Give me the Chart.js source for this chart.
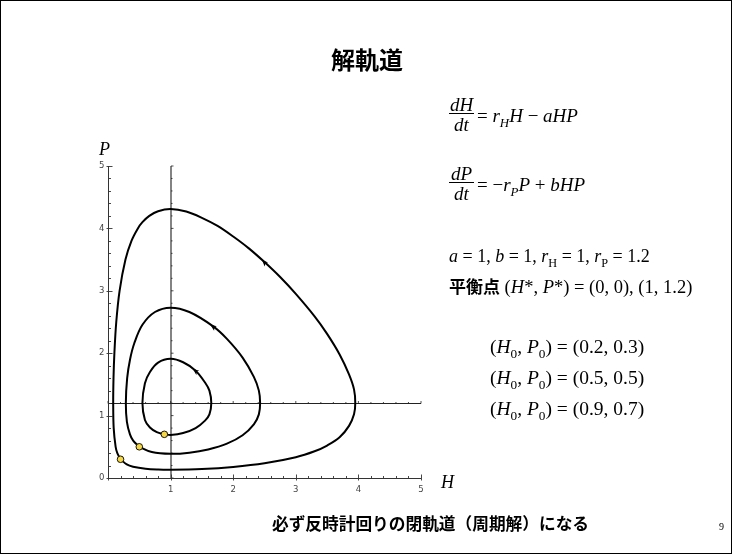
<!DOCTYPE html>
<html><head><meta charset="utf-8">
<script src="https://cdn.jsdelivr.net/npm/chart.js@4.4.0/dist/chart.umd.min.js"></script>
<style>html,body{margin:0;padding:0;background:#fff;}canvas{display:block;}</style>
</head><body>
<canvas id="c" width="733" height="555"></canvas>
<script>
// ---- data (H, P), listed counter-clockwise from each start point ----
const outerOrbit = [[0.2,0.3],[0.3,0.217],[0.4,0.18],[0.6,0.148],[0.8,0.136],[1.0,0.133],[1.5,0.145],[2.0,0.178],[2.5,0.236],[3.0,0.333],[3.3,0.428],[3.5,0.52],[3.7,0.652],[3.85,0.835],[3.93,1.02],[3.95,1.2],[3.93,1.42],[3.85,1.66],[3.7,1.98],[3.5,2.31],[3.3,2.59],[3.0,2.95],[2.75,3.22],[2.5,3.46],[2.25,3.68],[2.0,3.87],[1.75,4.04],[1.5,4.17],[1.25,4.27],[1.0,4.31],[0.8,4.275],[0.66,4.2],[0.55,4.1],[0.477,4.0],[0.375,3.8],[0.279,3.5],[0.185,3.0],[0.132,2.5],[0.102,2.0],[0.088,1.6],[0.083,1.2],[0.091,0.8],[0.122,0.5],[0.149,0.4],[0.2,0.3]];
const middleOrbit = [[0.5,0.5],[0.7,0.416],[1.0,0.387],[1.3,0.406],[1.6,0.458],[1.9,0.55],[2.15,0.685],[2.33,0.86],[2.41,1.02],[2.43,1.2],[2.41,1.4],[2.33,1.62],[2.15,1.93],[1.9,2.23],[1.68,2.43],[1.3,2.66],[1.0,2.73],[0.75,2.66],[0.55,2.455],[0.42,2.16],[0.352,1.9],[0.306,1.6],[0.285,1.2],[0.302,0.9],[0.351,0.7],[0.402,0.6],[0.5,0.5]];
const innerOrbit = [[0.9,0.7],[1.0,0.69],[1.2,0.72],[1.4,0.8],[1.55,0.92],[1.62,1.02],[1.65,1.2],[1.62,1.4],[1.55,1.53],[1.4,1.72],[1.2,1.855],[1.0,1.91],[0.8,1.85],[0.67,1.7],[0.59,1.52],[0.55,1.2],[0.59,0.93],[0.67,0.81],[0.78,0.735],[0.9,0.7]];
const startH = [0.2, 0.5, 0.9];
const startP = [0.3, 0.5, 0.7];
const arrowH = [2.5, 1.68, 1.4];
const arrowP = [3.46, 2.43, 1.72];
const eqH = 1, eqP = 1.2;
const xTickValues = [1,2,3,4,5];
const yTickValues = [0,1,2,3,4,5];
const xTickLabels = ['1','2','3','4','5'];
const yTickLabels = ['0','1','2','3','4','5'];

const toPts = arr => arr.map(p => ({x:p[0], y:p[1]}));
const startPts = startH.map((h,i) => ({x:h, y:startP[i]}));
const orbits = [outerOrbit, middleOrbit, innerOrbit];

const SERIF = '"Liberation Serif","DejaVu Serif",serif';
const CJK = '"Noto Sans CJK JP","Noto Sans CJK SC",sans-serif';

function runs(ctx, x, y, parts, size){
  for (const p of parts){
    const fs = p.sub ? size*0.68 : (p.fs || size);
    ctx.font = (p.b?'bold ':'') + (p.i?'italic ':'') + fs + 'px ' + (p.f || SERIF);
    const dy = p.sub ? size*0.27 : 0;
    ctx.fillText(p.t, x, y+dy);
    x += ctx.measureText(p.t).width;
  }
  return x;
}
function frac(ctx, x, yBar, num, den, size, w){
  ctx.font = 'italic ' + size + 'px ' + SERIF;
  ctx.textAlign = 'center';
  ctx.fillText(num, x + w/2, yBar - 2);
  ctx.fillText(den, x + w/2, yBar + size*0.85 + 2);
  ctx.textAlign = 'left';
  ctx.fillRect(x, yBar, w, 1);
}

const deco = {
  id:'deco',
  beforeDraw(chart){
    const ctx = chart.ctx;
    ctx.save();
    ctx.fillStyle = '#fff'; ctx.fillRect(0,0,chart.width,chart.height);
    ctx.strokeStyle = '#000'; ctx.lineWidth = 1;
    ctx.strokeRect(0.5,0.5,chart.width-2,chart.height-2);
    ctx.restore();
  },
  beforeDatasetsDraw(chart){
    const ctx = chart.ctx, xs = chart.scales.x, ys = chart.scales.y;
    const X = v => xs.getPixelForValue(v), Y = v => ys.getPixelForValue(v);
    const ln = (a,b,c,d) => { ctx.beginPath(); ctx.moveTo(a,b); ctx.lineTo(c,d); ctx.stroke(); };
    ctx.save();
    const x0 = Math.round(X(0))+0.5, y0 = Math.round(Y(0))+0.5;
    const xe = Math.round(X(eqH)), ye = Math.round(Y(eqP))+0.5;
    // crosshair through equilibrium
    ctx.strokeStyle = '#6e6e6e'; ctx.lineWidth = 1.7;
    ln(xe, Y(0), xe, Y(5));
    ctx.strokeStyle = '#222'; ctx.lineWidth = 1;
    ln(X(0), ye, X(5), ye);
    ctx.lineWidth = 0.8;
    for (let k=0;k<=25;k++){
      const v = k/5, major = k%5===0;
      ln(X(v), ye, X(v), ye - (major?2.5:1.5));
      ln(xe, Y(v), xe + (major?2.5:1.5), Y(v));
    }
    // frame axes
    ctx.strokeStyle = '#333'; ctx.lineWidth = 1;
    ln(x0, Y(5), x0, y0); ln(x0, y0, X(5), y0);
    ctx.lineWidth = 0.9;
    for (let k=0;k<=25;k++){
      const v = k/5, major = k%5===0;
      const yy = Math.round(Y(v))+0.5, xx = Math.round(X(v))+0.5;
      ln(x0 - (major?2:0), yy, x0 + (major?4:2.5), yy);
      ln(xx, y0 + (major?2:0), xx, y0 - (major?4:2.5));
    }
    // tick labels
    ctx.fillStyle = '#444'; ctx.font = '8.5px "DejaVu Sans",sans-serif';
    ctx.textAlign = 'right'; ctx.textBaseline = 'middle';
    yTickValues.forEach((v,i)=> ctx.fillText(yTickLabels[i], x0 - 4, Y(v)));
    ctx.textAlign = 'center'; ctx.textBaseline = 'top';
    xTickValues.forEach((v,i)=> ctx.fillText(xTickLabels[i], X(v), y0 + 7));
    ctx.restore();
  },
  afterDraw(chart){
    const ctx = chart.ctx, xs = chart.scales.x, ys = chart.scales.y;
    const X = v => xs.getPixelForValue(v), Y = v => ys.getPixelForValue(v);
    ctx.save();
    ctx.fillStyle = '#000';
    // direction arrowheads
    arrowH.forEach((h,i)=>{
      const orb = orbits[i];
      const idx = orb.findIndex(p => p[0]===h && p[1]===arrowP[i]);
      const a = orb[idx], b = orb[idx+1];
      const px = X(a[0]), py = Y(a[1]);
      const ang = Math.atan2(Y(b[1])-py, X(b[0])-px);
      ctx.save(); ctx.translate(px,py); ctx.rotate(ang);
      ctx.beginPath(); ctx.moveTo(3.5,0); ctx.lineTo(-3,-3.2); ctx.lineTo(-1.5,0); ctx.lineTo(-3,2); ctx.closePath(); ctx.fill();
      ctx.restore();
    });
    ctx.textBaseline = 'alphabetic'; ctx.textAlign = 'left';
    // title
    ctx.font = 'bold 24px ' + CJK; ctx.textAlign = 'center'; ctx.textBaseline = 'middle';
    ctx.fillText('解軌道', 367, 60);
    ctx.textAlign = 'left'; ctx.textBaseline = 'alphabetic';
    // axis names
    ctx.font = 'italic 18px ' + SERIF;
    ctx.fillText('P', 99, 155);
    ctx.fillText('H', 441, 488);
    // equations
    const S = 19;
    frac(ctx, 449, 113, 'dH', 'dt', S, 25);
    runs(ctx, 477, 122, [{t:'= '},{t:'r',i:1},{t:'H',i:1,sub:1},{t:'H',i:1},{t:' − '},{t:'aHP',i:1}], S);
    frac(ctx, 449, 182, 'dP', 'dt', S, 25);
    runs(ctx, 477, 191, [{t:'= −'},{t:'r',i:1},{t:'P',i:1,sub:1},{t:'P',i:1},{t:' + '},{t:'bHP',i:1}], S);
    runs(ctx, 449, 262, [{t:'a',i:1},{t:' = 1, '},{t:'b',i:1},{t:' = 1, '},{t:'r',i:1},{t:'H',sub:1},{t:' = 1, '},{t:'r',i:1},{t:'P',sub:1},{t:' = 1.2'}], 18);
    runs(ctx, 449, 293, [{t:'平衡点',b:1,f:CJK,fs:17},{t:' ('},{t:'H',i:1},{t:'*, '},{t:'P',i:1},{t:'*) = (0, 0), (1, 1.2)'}], 18.5);
    const rows = [['0.2','0.3',353],['0.5','0.5',384],['0.9','0.7',415]];
    rows.forEach(r=>{
      runs(ctx, 490, r[2], [{t:'('},{t:'H',i:1},{t:'0',sub:1},{t:', '},{t:'P',i:1},{t:'0',sub:1},{t:') = ('+r[0]+', '+r[1]+')'}], 19.5);
    });
    // footer
    ctx.font = 'bold 16.7px ' + CJK; ctx.textBaseline = 'middle';
    ctx.fillText('必ず反時計回りの閉軌道（周期解）になる', 272, 524);
    ctx.font = '10px ' + SERIF;
    ctx.fillText('9', 719, 527);
    ctx.restore();
  }
};

new Chart(document.getElementById('c').getContext('2d'), {
  type:'scatter',
  data:{datasets:[
    {data:startPts, showLine:false, pointRadius:3.3, pointBackgroundColor:'#f6d846', pointBorderColor:'#000', pointBorderWidth:0.9, order:0},
    {data:toPts(outerOrbit), showLine:true, borderColor:'#000', borderWidth:2, pointRadius:0, tension:0.35, fill:false, order:1},
    {data:toPts(middleOrbit), showLine:true, borderColor:'#000', borderWidth:2, pointRadius:0, tension:0.35, fill:false, order:1},
    {data:toPts(innerOrbit), showLine:true, borderColor:'#000', borderWidth:2, pointRadius:0, tension:0.35, fill:false, order:1}
  ]},
  options:{
    responsive:false, animation:false, devicePixelRatio:1, events:[],
    layout:{padding:{left:108, top:166, right:312, bottom:77}},
    scales:{x:{type:'linear', min:0, max:5, display:false}, y:{type:'linear', min:0, max:5, display:false}},
    plugins:{legend:{display:false}, tooltip:{enabled:false}}
  },
  plugins:[deco]
});
</script>
</body></html>
